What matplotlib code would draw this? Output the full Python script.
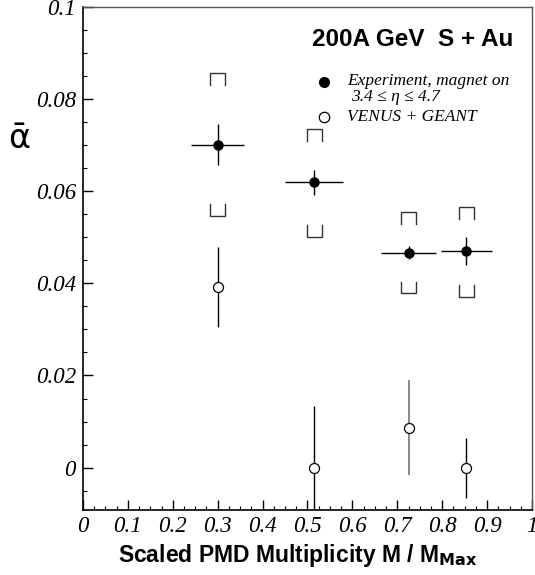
import numpy as np
import matplotlib
matplotlib.use("Agg")
import matplotlib.pyplot as plt
from matplotlib.ticker import MultipleLocator

# experiment, magnet on
x = np.array([0.300, 0.515, 0.725, 0.854])
xerr = np.array([0.059, 0.065, 0.062, 0.056])
y_exp = np.array([0.0701, 0.0619, 0.0467, 0.0470])
yerr_exp = np.array([0.0045, 0.0027, 0.0015, 0.0030])
sys_hi = np.array([0.0856, 0.0736, 0.0554, 0.0566])
sys_lo = np.array([0.0546, 0.0501, 0.0378, 0.0370])

# VENUS + GEANT
y_sim = np.array([0.0392, 0.0, 0.0087, 0.0])
yerr_sim = np.array([0.0086, 0.0133, 0.0104, 0.0065])
sim_col = ['black', 'black', '#808080', 'black']

xticks = [0, 0.1, 0.2, 0.3, 0.4, 0.5, 0.6, 0.7, 0.8, 0.9, 1]
xticklabels = ['0', '0.1', '0.2', '0.3', '0.4', '0.5', '0.6', '0.7', '0.8', '0.9', '1']
yticks = [0, 0.02, 0.04, 0.06, 0.08, 0.1]
yticklabels = ['0', '0.02', '0.04', '0.06', '0.08', '0.1']

fig = plt.figure(figsize=(5.35, 5.75), dpi=100)
ax = fig.add_axes([0.155, 0.1139, 0.8394, 0.8739])
ax.set_xlim(0, 1)
ax.set_ylim(-0.0091, 0.1)

# systematic brackets
bw = 0.0167
bh = 0.0026
for xi, hi, lo in zip(x, sys_hi, sys_lo):
    ax.plot([xi - bw, xi - bw, xi + bw, xi + bw], [hi - bh, hi, hi, hi - bh],
            color='#333333', lw=1.0, solid_joinstyle='miter')
    ax.plot([xi - bw, xi - bw, xi + bw, xi + bw], [lo + bh, lo, lo, lo + bh],
            color='#333333', lw=1.0, solid_joinstyle='miter')

ax.errorbar(x, y_exp, xerr=xerr, yerr=yerr_exp, fmt='o', color='black',
            ms=6.5, elinewidth=1.0, capsize=0, zorder=3)

for xi, yi, ei, c in zip(x, y_sim, yerr_sim, sim_col):
    ax.errorbar([xi], [yi], yerr=[ei], fmt='o', mfc='white', mec='black',
                ecolor=c, ms=7.2, mew=0.9, elinewidth=1.3 if c != 'black' else 1.0,
                capsize=0, zorder=3)

ax.set_xticks(xticks)
ax.set_xticklabels(xticklabels)
ax.set_yticks(yticks)
ax.set_yticklabels(yticklabels)
ax.xaxis.set_minor_locator(MultipleLocator(0.025))
ax.yaxis.set_minor_locator(MultipleLocator(0.005))
ax.tick_params(which='major', direction='in', length=7, width=1.0,
               top=False, right=False, pad=5)
ax.tick_params(which='minor', direction='in', length=3, width=0.8,
               top=False, right=False)
for lab in ax.get_xticklabels() + ax.get_yticklabels():
    lab.set_fontfamily('Liberation Serif')
    lab.set_fontstyle('italic')
    lab.set_fontsize(16.5)

for s in ['top', 'right']:
    ax.spines[s].set_color('#555555')
    ax.spines[s].set_linewidth(1.0)
for s in ['left', 'bottom']:
    ax.spines[s].set_linewidth(1.2)

ax.set_xlabel('Scaled PMD Multiplicity M / M$_{\\mathbf{Max}}$',
              fontfamily='Liberation Sans', fontweight='bold', fontsize=16.5,
              labelpad=3)
ax.xaxis.label.set_x(0.478)
fig.text(0.035, 0.76, '\u1fb1', fontfamily='DejaVu Sans', fontsize=24,
         ha='center', va='center')

ax.text(0.958, 0.0929, '200A GeV  S + Au', transform=ax.transData,
        fontfamily='Liberation Sans', fontweight='bold', fontsize=17.5,
        ha='right', va='center')

ax.plot([0.537], [0.0837], 'o', color='black', ms=7)
ax.plot([0.537], [0.0761], 'o', mfc='white', mec='black', ms=7.5, mew=0.9)
ax.text(0.588, 0.0840, 'Experiment, magnet on', fontfamily='Liberation Serif',
        fontstyle='italic', fontsize=12.5, ha='left', va='center')
ax.text(0.596, 0.0805, '3.4 \u2264 \u03b7 \u2264 4.7', fontfamily='Liberation Serif',
        fontstyle='italic', fontsize=12.5, ha='left', va='center')
ax.text(0.588, 0.0761, 'VENUS + GEANT', fontfamily='Liberation Serif',
        fontstyle='italic', fontsize=12.5, ha='left', va='center')

fig.savefig('out.png', dpi=100)
